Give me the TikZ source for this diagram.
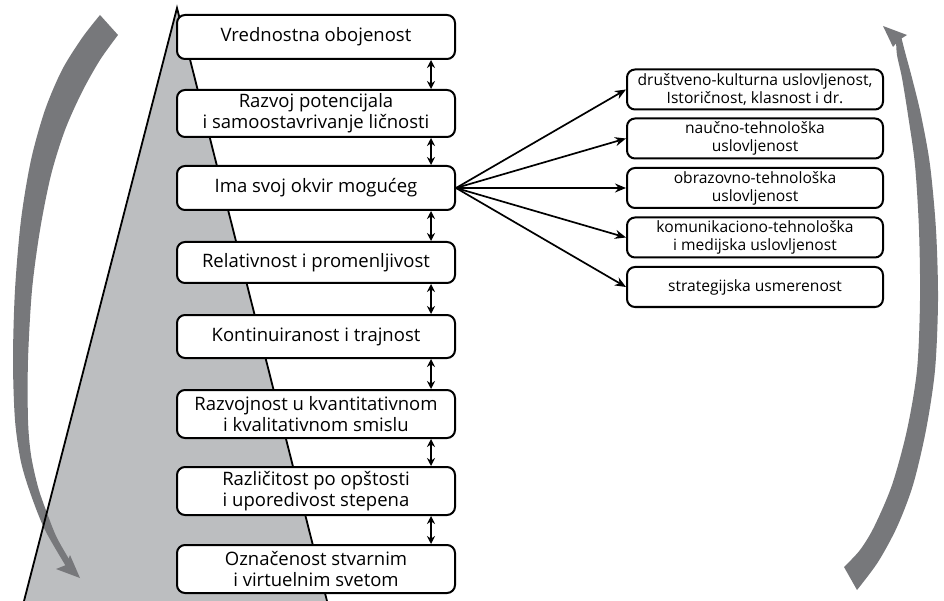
\documentclass[tikz,border=0pt]{standalone}
\usepackage{fontspec}
\setmainfont{Open Sans}
\usetikzlibrary{arrows.meta}
\definecolor{wedgegray}{HTML}{BCBEC0}
\definecolor{arrowgray}{HTML}{77787B}
\tikzset{
  mainbox/.style={draw, line width=2pt, rounded corners=8pt, fill=white,
    minimum width=278pt, inner sep=1pt, align=center,
    font=\fontsize{18.5}{21}\selectfont},
  sidebox/.style={draw, line width=2pt, rounded corners=8pt, fill=white,
    minimum width=256pt, minimum height=40pt, inner sep=0.5pt, align=center,
    font=\fontsize{15.6}{18}\selectfont},
  dbl/.style={line width=1.6pt, {Stealth[length=8pt,width=8pt]}-{Stealth[length=8pt,width=8pt]}},
  fan/.style={line width=1.7pt, -{Stealth[length=11pt,width=9pt]}}
}
\begin{document}
\begin{tikzpicture}[x=1pt,y=-1pt]
\useasboundingbox (0,0) rectangle (944,601);
% wedge
\fill[wedgegray] (177,8) -- (24,601) -- (327,601) -- cycle;
% left big arrow
\fill[arrowgray] plot[smooth] coordinates {(100,15) (82,38) (62,70) (45,110) (31,160) (21,220) (15,290) (13,360) (15,420) (21,462) (31,495) (45,530) (67,568)}
  -- plot[smooth] coordinates {(72,564) (57,538) (47,513) (38,487) (31,455) (28,420) (28,360) (32,290) (40,230) (51,175) (65,130) (82,92) (100,60) (118,35)} -- cycle;
\fill[arrowgray] (80,578) -- (56,569) -- (66,565) -- (70,555) -- cycle;
% right big arrow
\fill[arrowgray] plot[smooth] coordinates {(857,590) (878,562) (897,527) (913,485) (926,430) (935,370) (938,300) (936,230) (930,165) (921,115) (912,78) (905,52) (901,36)}
  -- plot[smooth] coordinates {(896,39) (897,55) (902,78) (908,115) (915,165) (919,230) (920,300) (917,370) (907,430) (892,485) (874,527) (860,550) (844,567)} -- cycle;
\fill[arrowgray] (883,26) -- (907,35) -- (899,40) -- (893,47) -- cycle;
% wedge outline
\draw[line width=1.8pt] (24,601) -- (177,8) -- (327,601);
% main boxes
\node[mainbox, minimum height=44pt] (b1) at (316,37) {Vrednostna obojenost};
\node[mainbox, minimum height=47pt] (b2) at (316,113.5) {Razvoj potencijala\\i samoostavrivanje ličnosti};
\node[mainbox, minimum height=44pt] (b3) at (316,188) {Ima svoj okvir mogućeg};
\node[mainbox, minimum height=41pt] (b4) at (316,262.5) {Relativnost i promenljivost};
\node[mainbox, minimum height=43pt] (b5) at (316,336.5) {Kontinuiranost i trajnost};
\node[mainbox, minimum height=48pt] (b6) at (316,414) {Razvojnost u kvantitativnom\\i kvalitativnom smislu};
\node[mainbox, minimum height=48pt] (b7) at (316,491) {Različitost po opštosti\\i uporedivost stepena};
\node[mainbox, minimum height=48pt] (b8) at (316,569) {Označenost stvarnim\\i virtuelnim svetom};
% side boxes
\node[sidebox] (r1) at (755,89.5) {društveno-kulturna uslovljenost,\\Istoričnost, klasnost i dr.};
\node[sidebox] (r2) at (755,138.5) {naučno-tehnološka\\uslovljenost};
\node[sidebox] (r3) at (755,188) {obrazovno-tehnološka\\uslovljenost};
\node[sidebox] (r4) at (755,237.5) {komunikaciono-tehnološka\\i medijska uslovljenost};
\node[sidebox] (r5) at (755,287) {strategijska usmerenost};
% double arrows
\foreach \a/\b in {b1/b2,b2/b3,b3/b4,b4/b5,b5/b6,b6/b7,b7/b8}
  \draw[dbl] ([xshift=-25pt]\a.south east) -- ([xshift=-25pt]\b.north east);
% fan arrows
\foreach \r in {r1,r2,r3,r4,r5}
  \draw[fan] (b3.east) -- (\r.west);
\end{tikzpicture}
\end{document}
